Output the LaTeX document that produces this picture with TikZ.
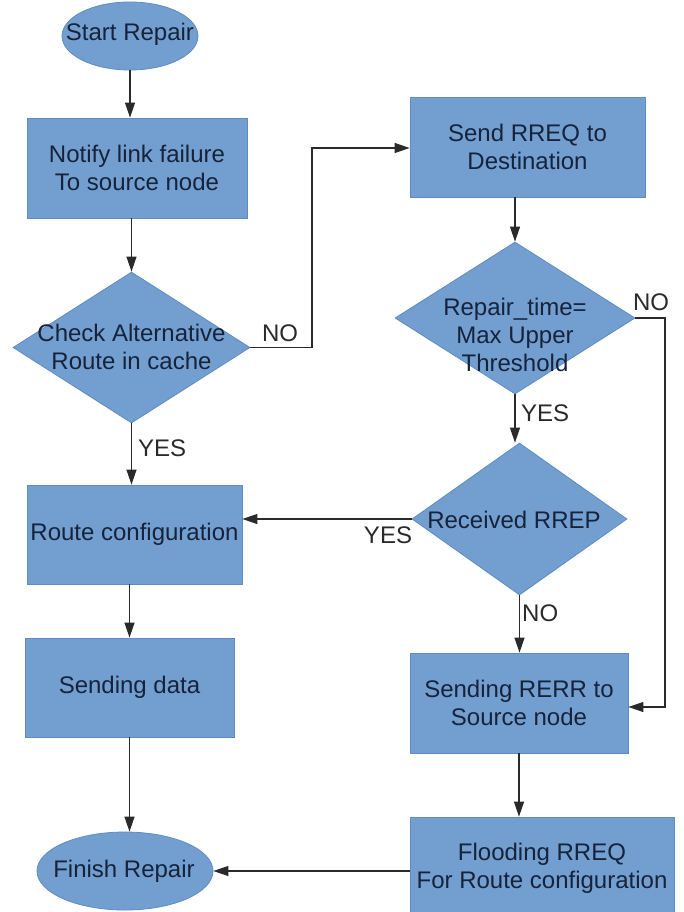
\documentclass[tikz,border=0pt]{standalone}
\usepackage{fontspec}
\setmainfont{Liberation Sans}
\usetikzlibrary{shapes.geometric,arrows.meta}
\definecolor{boxfill}{HTML}{729FCF}
\definecolor{boxedge}{HTML}{5F8CC2}
\definecolor{txt}{HTML}{16233B}
\definecolor{ln}{HTML}{2A2A2A}
\begin{document}
\begin{tikzpicture}[x=1pt,y=-1pt,
  every node/.style={font=\fontsize{24}{28}\selectfont},
  procbox/.style={rectangle, fill=boxfill, draw=boxedge, line width=0.8pt, inner sep=0pt, text=txt, align=center},
  ovalbox/.style={ellipse, fill=boxfill, draw=boxedge, line width=0.8pt, inner sep=0pt},
  decbox/.style={diamond, fill=boxfill, draw=boxedge, line width=0.8pt, inner sep=0pt},
  dectext/.style={text=txt, align=center, inner sep=0pt},
  flow/.style={draw=ln, line width=1.1pt, -{Triangle[length=15pt,width=10pt]}},
  lbl/.style={text=ln, inner sep=0pt}]
\fill[white] (0,0) rectangle (683,912);
\useasboundingbox (0,0) rectangle (683,912);
\begin{scope}
\clip (0,0) rectangle (683,912);
% left column
\node[ovalbox, minimum width=136pt, minimum height=68pt] (start) at (130,36) {};
\node[dectext] (starttext) at (130,34) {Start Repair};
\node[procbox, minimum width=220pt, minimum height=100pt] (notify) at (137,168) {Notify link failure\\To source node};
\node[decbox, minimum width=237pt, minimum height=151pt] (check) at (131.5,347.5) {};
\node[dectext] (checktext) at (131.5,347) {Check Alternative\\Route in cache};
\node[procbox, minimum width=215pt, minimum height=99pt] (route) at (134.5,534.5) {Route configuration};
\node[procbox, minimum width=209pt, minimum height=99pt] (data) at (129.5,687.5) {Sending data};
\node[ovalbox, minimum width=176pt, minimum height=78pt] (finish) at (125,871) {};
\node[dectext] (finishtext) at (124,871) {Finish Repair};
% right column
\node[procbox, minimum width=235pt, minimum height=100pt] (rreq) at (527.5,147) {Send RREQ to\\Destination};
\node[decbox, minimum width=240pt, minimum height=152pt] (repair) at (515,318) {};
\node[dectext] (repairtext) at (515,335) {Repair\_time=\\Max Upper\\Threshold};
\node[decbox, minimum width=215pt, minimum height=152pt] (rrep) at (519.5,519) {};
\node[dectext] (rreptext) at (514,520) {Received RREP};
\node[procbox, minimum width=218pt, minimum height=100pt] (rerr) at (519,703) {Sending RERR to\\Source node};
\node[procbox, minimum width=264pt, minimum height=103pt] (flood) at (542,868.5) {Flooding RREQ\\For Route configuration};
% connectors
\draw[flow] (start.south) -- (start.south |- notify.north);
\draw[flow] (check.north |- notify.south) -- (check.north);
\draw[flow] (check.south) -- (check.south |- route.north);
\node[lbl, anchor=west] (yes1) at (138,448) {YES};
\coordinate (nobend) at (312,148);
\draw[flow] (check.east) -| (nobend) -- (rreq.west |- nobend);
\node[lbl] (no1) at (280,333) {NO};
\draw[flow] (repair.north |- rreq.south) -- (repair.north);
\draw[flow] (repair.south) -- (repair.south |- rrep.north);
\node[lbl, anchor=west] (yes2) at (521,413) {YES};
\coordinate (nocorner) at (665,707);
\draw[flow] (repair.east) -| (nocorner) -- (rerr.east |- nocorner);
\node[lbl] (no2) at (651,302) {NO};
\draw[flow] (rrep.west) -- (route.east |- rrep.west);
\node[lbl] (yes3) at (388,535) {YES};
\draw[flow] (rrep.south) -- (rrep.south |- rerr.north);
\node[lbl, anchor=west] (no3) at (522,613) {NO};
\draw[flow] (data.north |- route.south) -- (data.north);
\draw[flow] (data.south) -- (data.south |- finish.north);
\draw[flow] (rerr.south) -- (rerr.south |- flood.north);
\draw[flow] (flood.west |- finish.east) -- (finish.east);
\end{scope}
\end{tikzpicture}
\end{document}
